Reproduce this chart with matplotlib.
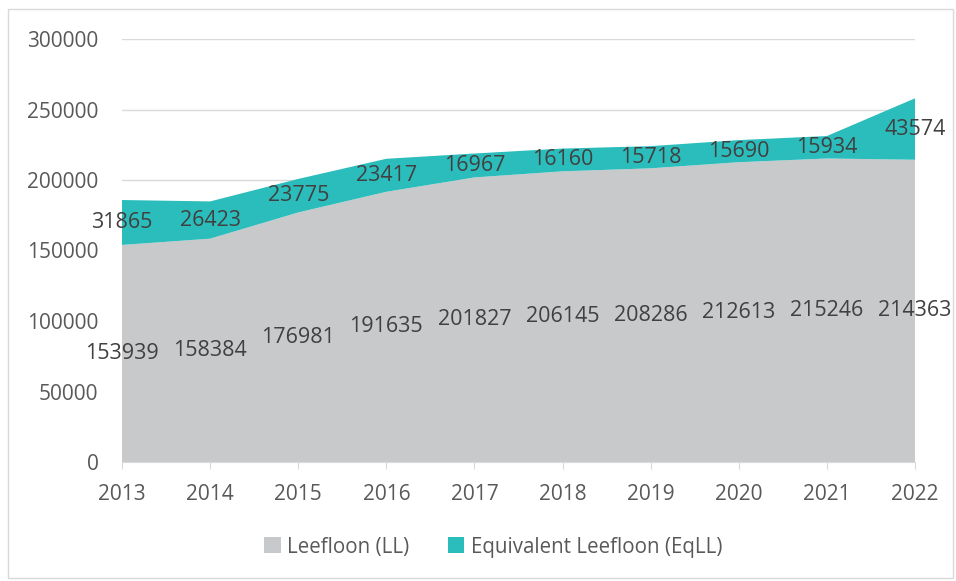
import numpy as np
import matplotlib.pyplot as plt
from matplotlib.patches import Rectangle

years = [2013, 2014, 2015, 2016, 2017, 2018, 2019, 2020, 2021, 2022]
leefloon = [153939, 158384, 176981, 191635, 201827, 206145, 208286, 212613, 215246, 214363]
equivalent = [31865, 26423, 23775, 23417, 16967, 16160, 15718, 15690, 15934, 43574]
labels = ["Leefloon (LL)", "Equivalent Leefloon (EqLL)"]
colors = ["#C8C9CB", "#2BBDBC"]

plt.rcParams['font.family'] = ['Open Sans', 'DejaVu Sans']

fig = plt.figure(figsize=(9.56, 5.81), dpi=100)
ax = fig.add_axes([122 / 956, 1 - 462 / 581, (915 - 122) / 956, (462 - 39) / 581])

# outer frame like the office chart
fig.patches.append(Rectangle((8 / 956, 3 / 581), 945 / 956, 569 / 581, transform=fig.transFigure,
                             fill=False, edgecolor="#D9D9D9", linewidth=1))

x = np.arange(len(years))
ax.stackplot(x, leefloon, equivalent, colors=colors, labels=labels, zorder=2)

ax.set_xlim(0, len(years) - 1)
ax.set_ylim(0, 300000)
ax.set_yticks(range(0, 300001, 50000))
ax.set_xticks(x)
ax.set_xticklabels([str(y) for y in years])

ax.grid(axis="y", color="#D9D9D9", linewidth=1, zorder=0)
ax.set_axisbelow(True)
for s in ["top", "right", "left"]:
    ax.spines[s].set_visible(False)
ax.spines["bottom"].set_color("#D9D9D9")
ax.tick_params(axis="x", length=5, color="#D9D9D9", labelsize=15, labelcolor="#595959", pad=11)
ax.tick_params(axis="y", length=0, labelsize=15, labelcolor="#595959", pad=17)

# data labels at the middle of each band
for i in range(len(years)):
    ll = leefloon[i]
    eq = equivalent[i]
    ax.text(x[i], ll / 2, str(ll), ha="center", va="center", fontsize=15.5, color="#404040", zorder=3)
    ax.text(x[i], ll + eq / 2, str(eq), ha="center", va="center", fontsize=15.5, color="#404040", zorder=3)

fig.legend(loc="center", bbox_to_anchor=(493 / 956, 1 - 547 / 581), ncol=2, frameon=False,
           fontsize=14.8, labelcolor="#595959", handlelength=0.8, handleheight=0.8,
           handletextpad=0.3, columnspacing=1.9)

fig.savefig("out.png", dpi=100)
